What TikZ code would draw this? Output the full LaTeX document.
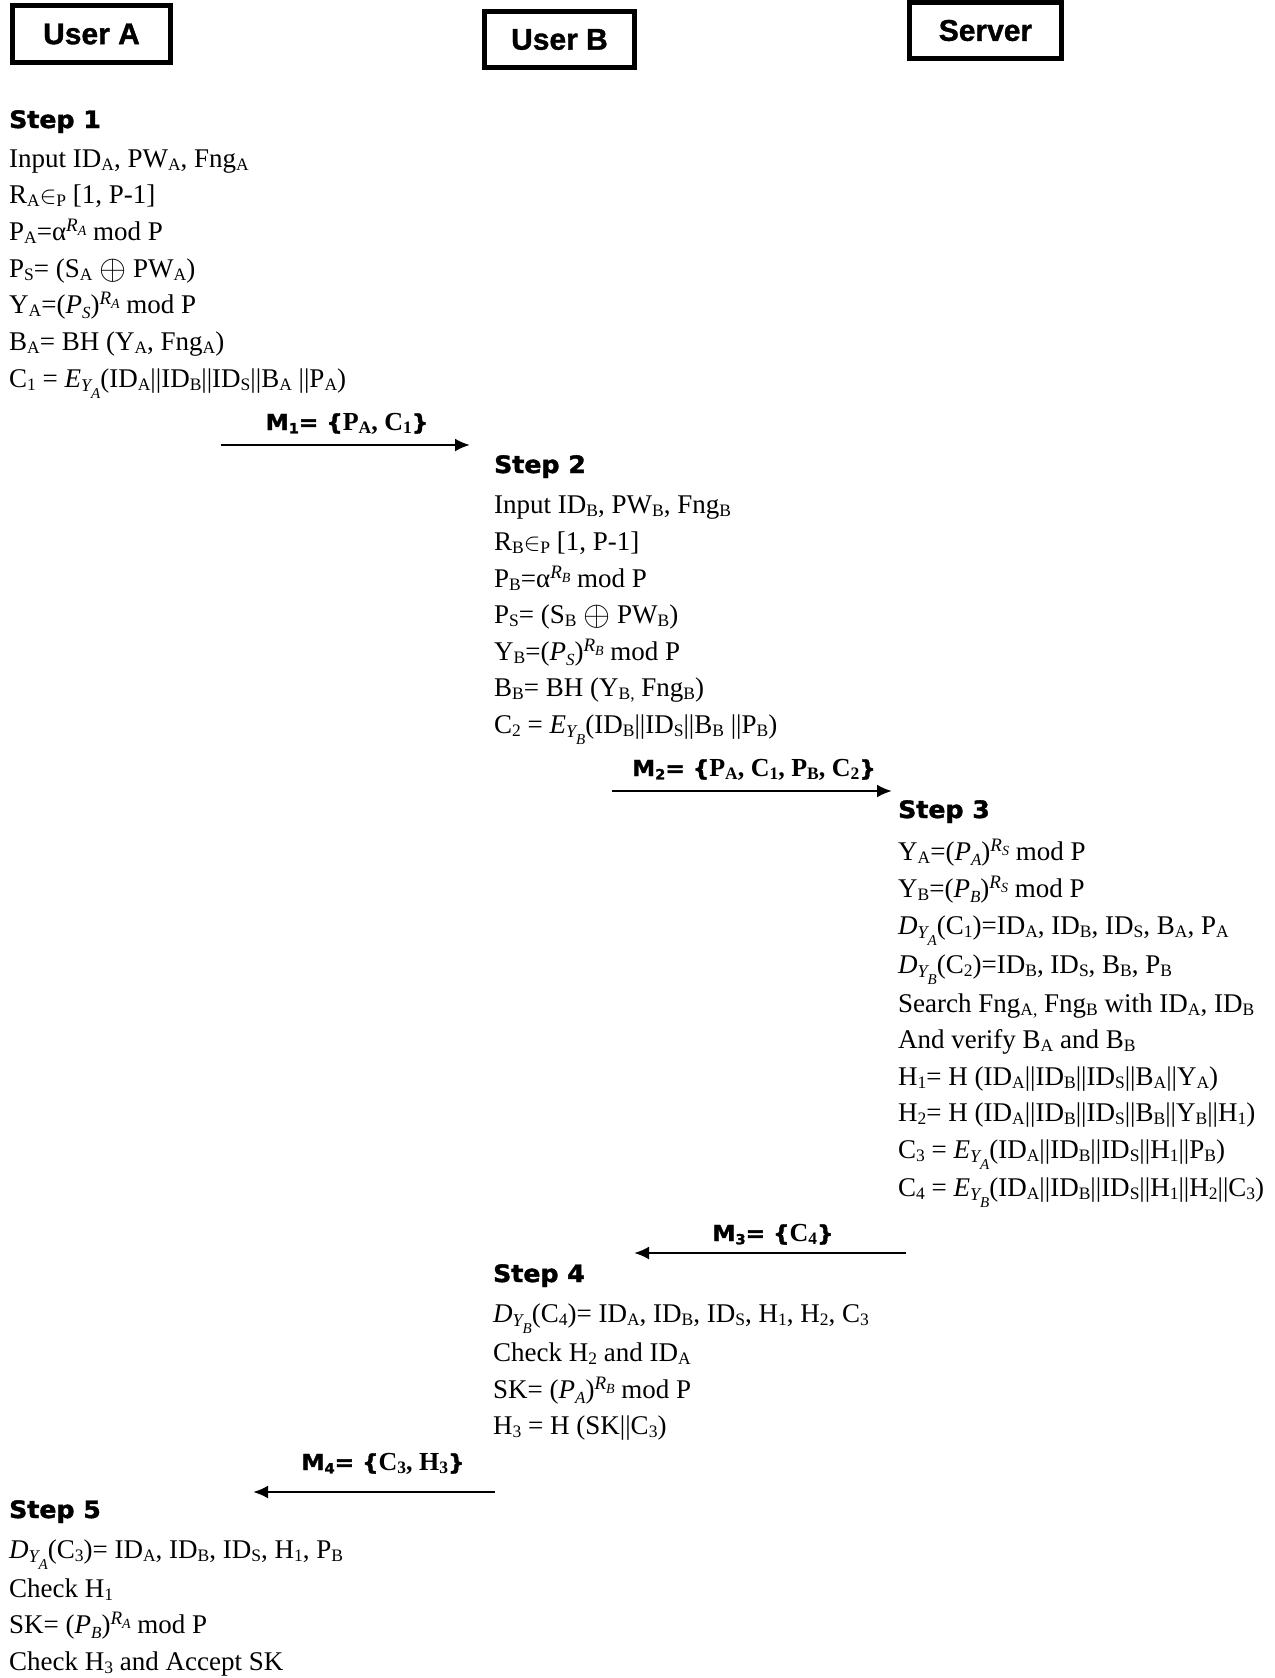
\documentclass[tikz,border=0pt]{standalone}
\usepackage{fontspec}
\setmainfont{Liberation Serif}
\newfontfamily\boxfont{Liberation Sans}[BoldFeatures={FakeBold=1.2}]
\newfontfamily\stepfont{DejaVu Sans}[BoldFeatures={FakeBold=1.6,FakeStretch=1.05}]
\usetikzlibrary{arrows.meta}
\newcommand\dn[1]{\raisebox{-0.13em}{\fontsize{17.5}{17.5}\selectfont #1}}
\newcommand\upR[1]{\raisebox{0.32em}{\fontsize{19}{19}\selectfont\itshape R\raisebox{-0.2em}{\fontsize{14}{14}\selectfont #1}}}
\newcommand\itP[1]{\textit{P}\raisebox{-0.2em}{\fontsize{17}{17}\selectfont\itshape #1}}
\newcommand\Enc[2]{\textit{#1}\raisebox{-0.15em}{\fontsize{18}{18}\selectfont\itshape Y\raisebox{-0.4em}{\fontsize{15}{15}\selectfont #2}}}
\newcommand\xor{\raisebox{-0.1em}{\scalebox{1.4}{$\oplus$}}}
\newcommand\Mlab[2]{{\stepfont\bfseries\fontsize{22}{22}\selectfont M\raisebox{-0.15em}{\fontsize{14}{14}\selectfont #1}= \{}{\bfseries\fontsize{26}{26}\selectfont #2}{\stepfont\bfseries\fontsize{22}{22}\selectfont\}}}
\tikzset{
  hdr/.style={draw, line width=5pt, inner sep=0pt, font=\boxfont\bfseries\fontsize{30}{30}\selectfont},
  txt/.style={anchor=base west, inner sep=0pt, font=\fontsize{27}{27}\selectfont},
  stephd/.style={anchor=base west, inner sep=0pt, font=\stepfont\bfseries\fontsize{24}{24}\selectfont},
  msglbl/.style={anchor=base, inner sep=0pt},
  msg/.style={line width=2.5pt, -{Latex[length=15pt,width=13pt]}}
}
\begin{document}
\begin{tikzpicture}[x=1pt,y=-1pt]
\useasboundingbox (0,0) rectangle (1274,1678);
% headers
\node[hdr, minimum width=158pt, minimum height=57pt] (ua) at (91.5,34) {User A};
\node[hdr, minimum width=150pt, minimum height=56pt] (ub) at (559.5,39.5) {User B};
\node[hdr, minimum width=152pt, minimum height=56pt] (srv) at (985.5,30.5) {Server};
% Step 1
\node[stephd] (s1) at (9,128) {Step 1};
\node[txt] (s1a) at (9,167) {Input ID\dn{A}, PW\dn{A}, Fng\dn{A}};
\node[txt] (s1b) at (9,203) {R\dn{A}$\in$\dn{P} [1, P-1]};
\node[txt] (s1c) at (9,240) {P\dn{A}=α\upR{A} mod P};
\node[txt] (s1d) at (9,277) {P\dn{S}= (S\dn{A} \xor{} PW\dn{A})};
\node[txt] (s1e) at (9,313) {Y\dn{A}=(\itP{S})\upR{A} mod P};
\node[txt] (s1f) at (9,350) {B\dn{A}= BH (Y\dn{A}, Fng\dn{A})};
\node[txt] (s1g) at (9,387) {C\dn{1} = \Enc{E}{A}(ID\dn{A}||ID\dn{B}||ID\dn{S}||B\dn{A} ||P\dn{A})};
% M1
\node[msglbl] (m1) at (347,430) {\Mlab{1}{P\dn{A}, C\dn{1}}};
\coordinate (m1s) at (221,445);
\coordinate (m1e) at (470,445);
\draw[msg] (m1s) -- (m1e);
% Step 2
\node[stephd] (s2) at (494,473) {Step 2};
\node[txt] (s2a) at (494,513) {Input ID\dn{B}, PW\dn{B}, Fng\dn{B}};
\node[txt] (s2b) at (494,550) {R\dn{B}$\in$\dn{P} [1, P-1]};
\node[txt] (s2c) at (494,587) {P\dn{B}=α\upR{B} mod P};
\node[txt] (s2d) at (494,623) {P\dn{S}= (S\dn{B} \xor{} PW\dn{B})};
\node[txt] (s2e) at (494,660) {Y\dn{B}=(\itP{S})\upR{B} mod P};
\node[txt] (s2f) at (494,696) {B\dn{B}= BH (Y\dn{B,} Fng\dn{B})};
\node[txt] (s2g) at (494,733) {C\dn{2} = \Enc{E}{B}(ID\dn{B}||ID\dn{S}||B\dn{B} ||P\dn{B})};
% M2
\node[msglbl] (m2) at (754,776) {\Mlab{2}{P\dn{A}, C\dn{1}, P\dn{B}, C\dn{2}}};
\coordinate (m2s) at (612,791);
\coordinate (m2e) at (892,791);
\draw[msg] (m2s) -- (m2e);
% Step 3
\node[stephd] (s3) at (898,818) {Step 3};
\node[txt] (s3a) at (898,860) {Y\dn{A}=(\itP{A})\upR{S} mod P};
\node[txt] (s3b) at (898,897) {Y\dn{B}=(\itP{B})\upR{S} mod P};
\node[txt] (s3c) at (898,934) {\Enc{D}{A}(C\dn{1})=ID\dn{A}, ID\dn{B}, ID\dn{S}, B\dn{A}, P\dn{A}};
\node[txt] (s3d) at (898,973) {\Enc{D}{B}(C\dn{2})=ID\dn{B}, ID\dn{S}, B\dn{B}, P\dn{B}};
\node[txt] (s3e) at (898,1012) {Search Fng\dn{A,} Fng\dn{B} with ID\dn{A}, ID\dn{B}};
\node[txt] (s3f) at (898,1048) {And verify B\dn{A} and B\dn{B}};
\node[txt] (s3g) at (898,1085) {H\dn{1}= H (ID\dn{A}||ID\dn{B}||ID\dn{S}||B\dn{A}||Y\dn{A})};
\node[txt] (s3h) at (898,1121) {H\dn{2}= H (ID\dn{A}||ID\dn{B}||ID\dn{S}||B\dn{B}||Y\dn{B}||H\dn{1})};
\node[txt] (s3i) at (898,1158) {C\dn{3} = \Enc{E}{A}(ID\dn{A}||ID\dn{B}||ID\dn{S}||H\dn{1}||P\dn{B})};
\node[txt] (s3j) at (898,1196) {C\dn{4} = \Enc{E}{B}(ID\dn{A}||ID\dn{B}||ID\dn{S}||H\dn{1}||H\dn{2}||C\dn{3})};
% M3
\node[msglbl] (m3) at (773,1241) {\Mlab{3}{C\dn{4}}};
\coordinate (m3s) at (906,1253);
\coordinate (m3e) at (634,1253);
\draw[msg] (m3s) -- (m3e);
% Step 4
\node[stephd] (s4) at (493,1282) {Step 4};
\node[txt] (s4a) at (493,1322) {\Enc{D}{B}(C\dn{4})= ID\dn{A}, ID\dn{B}, ID\dn{S}, H\dn{1}, H\dn{2}, C\dn{3}};
\node[txt] (s4b) at (493,1361) {Check H\dn{2} and ID\dn{A}};
\node[txt] (s4c) at (493,1398) {SK= (\itP{A})\upR{B} mod P};
\node[txt] (s4d) at (493,1434) {H\dn{3} = H (SK||C\dn{3})};
% M4
\node[msglbl] (m4) at (383,1470) {\Mlab{4}{C\dn{3}, H\dn{3}}};
\coordinate (m4s) at (495,1492);
\coordinate (m4e) at (253,1492);
\draw[msg] (m4s) -- (m4e);
% Step 5
\node[stephd] (s5) at (9,1518) {Step 5};
\node[txt] (s5a) at (9,1558) {\Enc{D}{A}(C\dn{3})= ID\dn{A}, ID\dn{B}, ID\dn{S}, H\dn{1}, P\dn{B}};
\node[txt] (s5b) at (9,1597) {Check H\dn{1}};
\node[txt] (s5c) at (9,1633) {SK= (\itP{B})\upR{A} mod P};
\node[txt] (s5d) at (9,1670) {Check H\dn{3} and Accept SK};
\end{tikzpicture}
\end{document}
